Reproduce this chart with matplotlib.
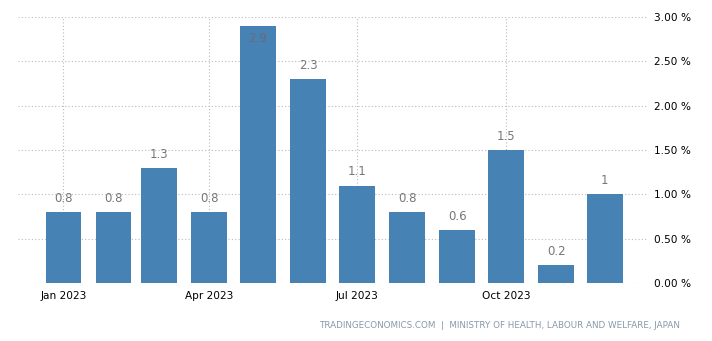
import datetime as dt
import matplotlib
matplotlib.use("Agg")
import matplotlib.pyplot as plt
import matplotlib.dates as mdates
from matplotlib.ticker import FuncFormatter

# monthly values, 2023
months = [dt.date(2023, m, 1) for m in range(1, 13)]
values = [0.8, 0.8, 1.3, 0.8, 2.9, 2.3, 1.1, 0.8, 0.6, 1.5, 0.2, 1.0]
labels = ["0.8", "0.8", "1.3", "0.8", "2.9", "2.3", "1.1", "0.8", "0.6", "1.5", "0.2", "1"]
yticks = [0.0, 0.5, 1.0, 1.5, 2.0, 2.5, 3.0]

fig = plt.figure(figsize=(7.12, 3.41), dpi=100)
ax = fig.add_axes([0.0253, 0.170, 0.8834, 0.780])

x = mdates.date2num(months)
bars = ax.bar(x, values, width=22, color="#4682b4", zorder=2)

for xi, v, lab in zip(x, values, labels):
    if v > 2.7:
        ax.text(xi, v - 0.07, lab, ha="center", va="top", fontsize=8.5, color="#6a6a7a", zorder=3)
    else:
        ax.text(xi, v + 0.08, lab, ha="center", va="bottom", fontsize=8.5, color="#777777", zorder=3)

ax.set_xlim(mdates.date2num(dt.date(2022, 12, 4)), mdates.date2num(dt.date(2023, 12, 27)))
ax.set_ylim(0, 3.0)
ax.set_yticks(yticks)
ax.yaxis.set_major_formatter(FuncFormatter(lambda v, p: f"{v:.2f} %"))
ax.yaxis.tick_right()

ax.xaxis.set_major_locator(mdates.MonthLocator(bymonth=[1, 4, 7, 10]))
ax.xaxis.set_major_formatter(mdates.DateFormatter("%b %Y"))

for s in ax.spines.values():
    s.set_visible(False)
ax.tick_params(axis="both", length=0, labelsize=7.6, colors="black")
ax.tick_params(axis="y", pad=5)
ax.tick_params(axis="x", pad=6)
ax.grid(True, linestyle=(0, (1, 2)), color="#bbbbbb", linewidth=0.8, zorder=0)
ax.set_axisbelow(True)

fig.text(0.955, 0.045, "TRADINGECONOMICS.COM  |  MINISTRY OF HEALTH, LABOUR AND WELFARE, JAPAN",
         ha="right", va="center", fontsize=6.3, color="#8899aa")

fig.savefig("out.png", dpi=100)
